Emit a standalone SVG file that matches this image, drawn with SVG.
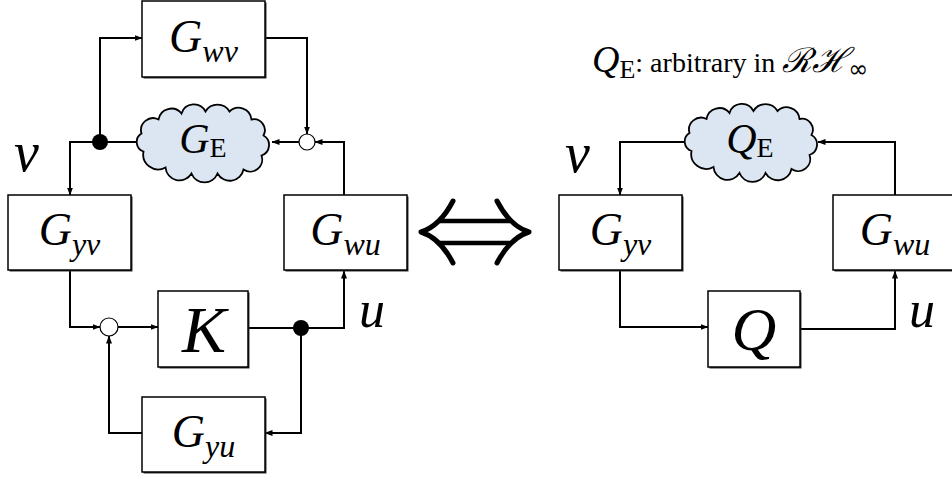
<svg xmlns="http://www.w3.org/2000/svg" width="952" height="480" viewBox="0 0 952 480">
<style>
.box{fill:#fff;stroke:#000;stroke-width:1.5}
.sh{fill:#333}
.arr{fill:none;stroke:#000;stroke-width:2;marker-end:url(#ah)}
.cloud{fill:#dbe6f2;stroke:#000;stroke-width:1.8}
.mi{font-family:'Liberation Serif','Times New Roman',serif;font-style:italic}
.rm{font-family:'Liberation Serif','Times New Roman',serif;font-style:normal}
.g{font-size:46px}
.sub{font-size:32px}
</style>
<defs>
<marker id="ah" markerUnits="userSpaceOnUse" markerWidth="8" markerHeight="6" refX="7.5" refY="3" orient="auto">
<path d="M0,0 L8,3 L0,6 Z" fill="#000"/>
</marker>
<path id="cl" d="M -60 8 A 10 10 0 0 1 -62 -10 A 12 12 0 0 1 -45 -24 A 13 13 0 0 1 -22 -30 A 13 13 0 0 1 2 -32 A 14 14 0 0 1 26 -32 A 13 13 0 0 1 48 -24 A 11 11 0 0 1 60 -8 A 11 11 0 0 1 58 12 A 12 12 0 0 1 40 26 A 14 14 0 0 1 14 30 A 14 14 0 0 1 -12 30 A 14 14 0 0 1 -38 24 A 15 15 0 0 1 -60 8 Z"/>
</defs>
<rect width="952" height="480" fill="#fff"/>

<g id="connectors">
<polyline class="arr" points="137,142 70,142 70,195"/>
<polyline class="arr" points="100,142 100,38 142,38"/>
<polyline class="arr" points="265,38 307,38 307,134"/>
<polyline class="arr" points="344,195 344,142 315,142"/>
<polyline class="arr" points="299,142 272,142"/>
<polyline class="arr" points="70,270 70,327 100,327"/>
<polyline class="arr" points="118,327 158,327"/>
<polyline class="arr" points="248,328 344,328 344,271"/>
<polyline class="arr" points="301,328 301,433 265,433"/>
<polyline class="arr" points="142,433 109,433 109,336"/>
<polyline class="arr" points="686,142 620,142 620,195"/>
<polyline class="arr" points="895,195 895,142 818,142"/>
<polyline class="arr" points="620,270 620,327 708,327"/>
<polyline class="arr" points="800,329 895,329 895,271"/>
</g>

<g id="sum1"><circle cx="307" cy="142" r="8" fill="#fff" stroke="#000" stroke-width="1.2"/></g>
<g id="sum2"><circle cx="109" cy="327" r="9" fill="#fff" stroke="#000" stroke-width="1.2"/></g>
<g id="dot1"><circle cx="100" cy="142" r="8" fill="#000"/></g>
<g id="dot2"><circle cx="301" cy="328" r="8" fill="#000"/></g>

<g id="Gwv">
<rect class="sh" x="143.5" y="2.5" width="123" height="76"/>
<rect class="box" x="142" y="1" width="123" height="76"/>
<text class="mi" x="203.5" y="52" text-anchor="middle"><tspan class="g">G</tspan><tspan class="sub" dy="10">wv</tspan></text>
</g>

<g id="GE">
<use href="#cl" class="cloud" transform="translate(203.5,143.5)"/>
<text class="mi" x="203" y="153" text-anchor="middle"><tspan font-size="42">G</tspan><tspan class="rm" font-size="28" dy="4">E</tspan></text>
</g>

<g id="Gyv">
<rect class="sh" x="9.5" y="196.5" width="123" height="75"/>
<rect class="box" x="8" y="195" width="123" height="75"/>
<text class="mi" x="69.5" y="245" text-anchor="middle"><tspan class="g">G</tspan><tspan class="sub" dy="10">yv</tspan></text>
</g>

<g id="Gwu">
<rect class="sh" x="285.5" y="196.5" width="123" height="75"/>
<rect class="box" x="284" y="195" width="123" height="75"/>
<text class="mi" x="345.5" y="245" text-anchor="middle"><tspan class="g">G</tspan><tspan class="sub" dy="10">wu</tspan></text>
</g>

<g id="K">
<rect class="sh" x="159.5" y="292.5" width="90" height="76"/>
<rect class="box" x="158" y="291" width="90" height="76"/>
<text class="mi" x="204" y="352" font-size="66" text-anchor="middle">K</text>
</g>

<g id="Gyu">
<rect class="sh" x="143.5" y="398.5" width="123" height="75"/>
<rect class="box" x="142" y="397" width="123" height="75"/>
<text class="mi" x="203.5" y="447" text-anchor="middle"><tspan class="g">G</tspan><tspan class="sub" dy="10">yu</tspan></text>
</g>

<g id="labels-left">
<text class="mi" x="14" y="171" font-size="56">v</text>
<text class="mi" x="359" y="327" font-size="52">u</text>
</g>

<g id="title">
<text x="592" y="72" font-size="28" class="rm"><tspan class="mi" font-size="38">Q</tspan><tspan font-size="26" dy="6">E</tspan><tspan dy="-6">: arbitrary in  </tspan><tspan font-family="DejaVu Serif, serif" font-style="italic" font-size="34">ℛℋ</tspan><tspan font-family="DejaVu Sans, sans-serif" font-size="24" dy="5">∞</tspan></text>
</g>

<g id="QE">
<use href="#cl" class="cloud" transform="translate(751.5,143)"/>
<text class="mi" x="750" y="153" text-anchor="middle"><tspan font-size="42">Q</tspan><tspan class="rm" font-size="28" dy="4">E</tspan></text>
</g>

<g id="Gyv2">
<rect class="sh" x="560.5" y="196.5" width="123" height="75"/>
<rect class="box" x="559" y="195" width="123" height="75"/>
<text class="mi" x="620.5" y="245" text-anchor="middle"><tspan class="g">G</tspan><tspan class="sub" dy="10">yv</tspan></text>
</g>

<g id="Gwu2">
<rect class="sh" x="834.5" y="196.5" width="124" height="75"/>
<rect class="box" x="833" y="195" width="124" height="75"/>
<text class="mi" x="895" y="245" text-anchor="middle"><tspan class="g">G</tspan><tspan class="sub" dy="10">wu</tspan></text>
</g>

<g id="Q">
<rect class="sh" x="709.5" y="292.5" width="92" height="76"/>
<rect class="box" x="708" y="291" width="92" height="76"/>
<text class="mi" x="754" y="350" font-size="62" text-anchor="middle">Q</text>
</g>

<g id="labels-right">
<text class="mi" x="565" y="172" font-size="56">v</text>
<text class="mi" x="909" y="327" font-size="52">u</text>
</g>

<g id="equiv">
<path d="M440,221 H510 M440,243 H510" fill="none" stroke="#000" stroke-width="4.5"/>
<path d="M453,201 Q440,226 421,232 Q440,238 453,263" fill="none" stroke="#000" stroke-width="5" stroke-linecap="round" stroke-linejoin="round"/>
<path d="M497,201 Q510,226 529,232 Q510,238 497,263" fill="none" stroke="#000" stroke-width="5" stroke-linecap="round" stroke-linejoin="round"/>
</g>
</svg>
